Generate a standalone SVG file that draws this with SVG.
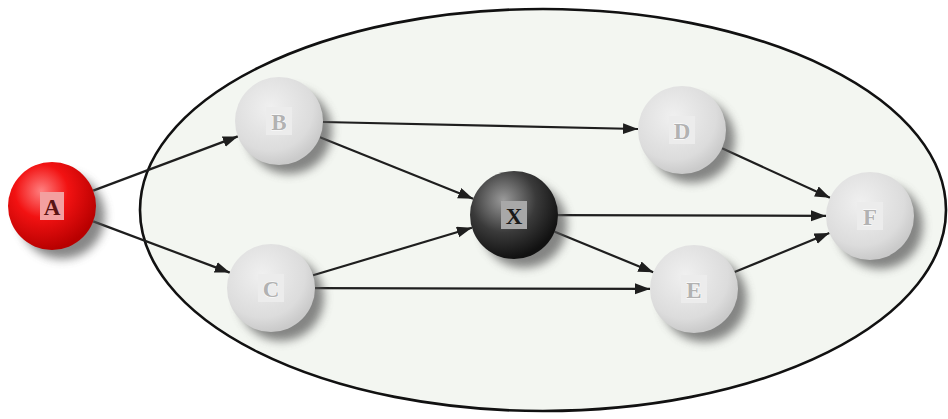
<svg xmlns="http://www.w3.org/2000/svg" width="948" height="419" viewBox="0 0 948 419">
<style>
.edge{stroke:#1e1e1e;stroke-width:2.2;fill:none;marker-end:url(#arr)}
.lbl{font-family:"Liberation Serif","DejaVu Serif",serif;font-weight:bold;font-size:23px;text-anchor:middle;dominant-baseline:central}
.light .lbl{fill:#b2b2b2;stroke:#ffffff;stroke-width:0.9;paint-order:stroke}
.light .box{fill:#ececec}
.shadow{fill:#555555;opacity:0.7;filter:url(#blur)}
</style>
<defs>
<radialGradient id="gLight" cx="0.4" cy="0.35" r="0.65">
<stop offset="0" stop-color="#f0f0f0"/>
<stop offset="0.75" stop-color="#dcdcdc"/>
<stop offset="1" stop-color="#cacaca"/>
</radialGradient>
<radialGradient id="gRed" cx="0.38" cy="0.33" r="0.67">
<stop offset="0" stop-color="#ff8080"/>
<stop offset="0.45" stop-color="#f21212"/>
<stop offset="1" stop-color="#b80000"/>
</radialGradient>
<radialGradient id="gDark" cx="0.38" cy="0.33" r="0.67">
<stop offset="0" stop-color="#9a9a9a"/>
<stop offset="0.55" stop-color="#3a3a3a"/>
<stop offset="1" stop-color="#111111"/>
</radialGradient>
<filter id="blur" x="-50%" y="-50%" width="200%" height="200%">
<feGaussianBlur stdDeviation="5"/>
</filter>
<marker id="arr" markerUnits="userSpaceOnUse" markerWidth="16" markerHeight="12" refX="15" refY="5.5" orient="auto">
<path d="M0,0 L15,5.5 L0,11 z" fill="#1e1e1e"/>
</marker>
</defs>
<rect width="948" height="419" fill="#ffffff"/>
<ellipse cx="543" cy="210" rx="403" ry="201" fill="#f3f6f1" stroke="#111" stroke-width="2.6"/>
<g id="connectors">
<line class="edge" x1="93.2" y1="190.6" x2="237.8" y2="136.4"/>
<line class="edge" x1="93.2" y1="221.4" x2="229.8" y2="272.6"/>
<line class="edge" x1="323" y1="122" x2="638" y2="129"/>
<line class="edge" x1="319.9" y1="137.3" x2="473.1" y2="198.7"/>
<line class="edge" x1="313.1" y1="275.3" x2="471.9" y2="227.7"/>
<line class="edge" x1="315" y1="288.1" x2="650" y2="288.9"/>
<line class="edge" x1="558" y1="215.1" x2="826" y2="215.9"/>
<line class="edge" x1="554.7" y1="231.7" x2="653.3" y2="272.3"/>
<line class="edge" x1="722" y1="148.3" x2="830" y2="197.7"/>
<line class="edge" x1="734.6" y1="272.1" x2="829.4" y2="232.9"/>
</g>
<g id="node-A">
<circle class="shadow" cx="62" cy="216" r="43"/>
<circle cx="52" cy="206" r="44" fill="url(#gRed)"/>
<rect x="40" y="192" width="24" height="28" fill="#f3a0a0"/>
<text class="lbl" x="52" y="207" fill="#5a1414">A</text>
</g>
<g id="node-B" class="light">
<circle class="shadow" cx="289" cy="131" r="43"/>
<circle cx="279" cy="121" r="44" fill="url(#gLight)"/>
<rect class="box" x="266" y="107" width="26" height="28"/>
<text class="lbl" x="279" y="122">B</text>
</g>
<g id="node-C" class="light">
<circle class="shadow" cx="281" cy="298" r="43"/>
<circle cx="271" cy="288" r="44" fill="url(#gLight)"/>
<rect class="box" x="258" y="274" width="26" height="28"/>
<text class="lbl" x="271" y="289">C</text>
</g>
<g id="node-X">
<circle class="shadow" cx="524" cy="225" r="43"/>
<circle cx="514" cy="215" r="44" fill="url(#gDark)"/>
<rect x="501" y="201" width="26" height="28" fill="#a8a8a8"/>
<text class="lbl" x="514" y="216" fill="#1a1a1a">X</text>
</g>
<g id="node-D" class="light">
<circle class="shadow" cx="692" cy="140" r="43"/>
<circle cx="682" cy="130" r="44" fill="url(#gLight)"/>
<rect class="box" x="669" y="116" width="26" height="28"/>
<text class="lbl" x="682" y="131">D</text>
</g>
<g id="node-E" class="light">
<circle class="shadow" cx="704" cy="299" r="43"/>
<circle cx="694" cy="289" r="44" fill="url(#gLight)"/>
<rect class="box" x="681" y="275" width="26" height="28"/>
<text class="lbl" x="694" y="290">E</text>
</g>
<g id="node-F" class="light">
<circle class="shadow" cx="880" cy="226" r="43"/>
<circle cx="870" cy="216" r="44" fill="url(#gLight)"/>
<rect class="box" x="857" y="202" width="26" height="28"/>
<text class="lbl" x="870" y="217">F</text>
</g>
</svg>
